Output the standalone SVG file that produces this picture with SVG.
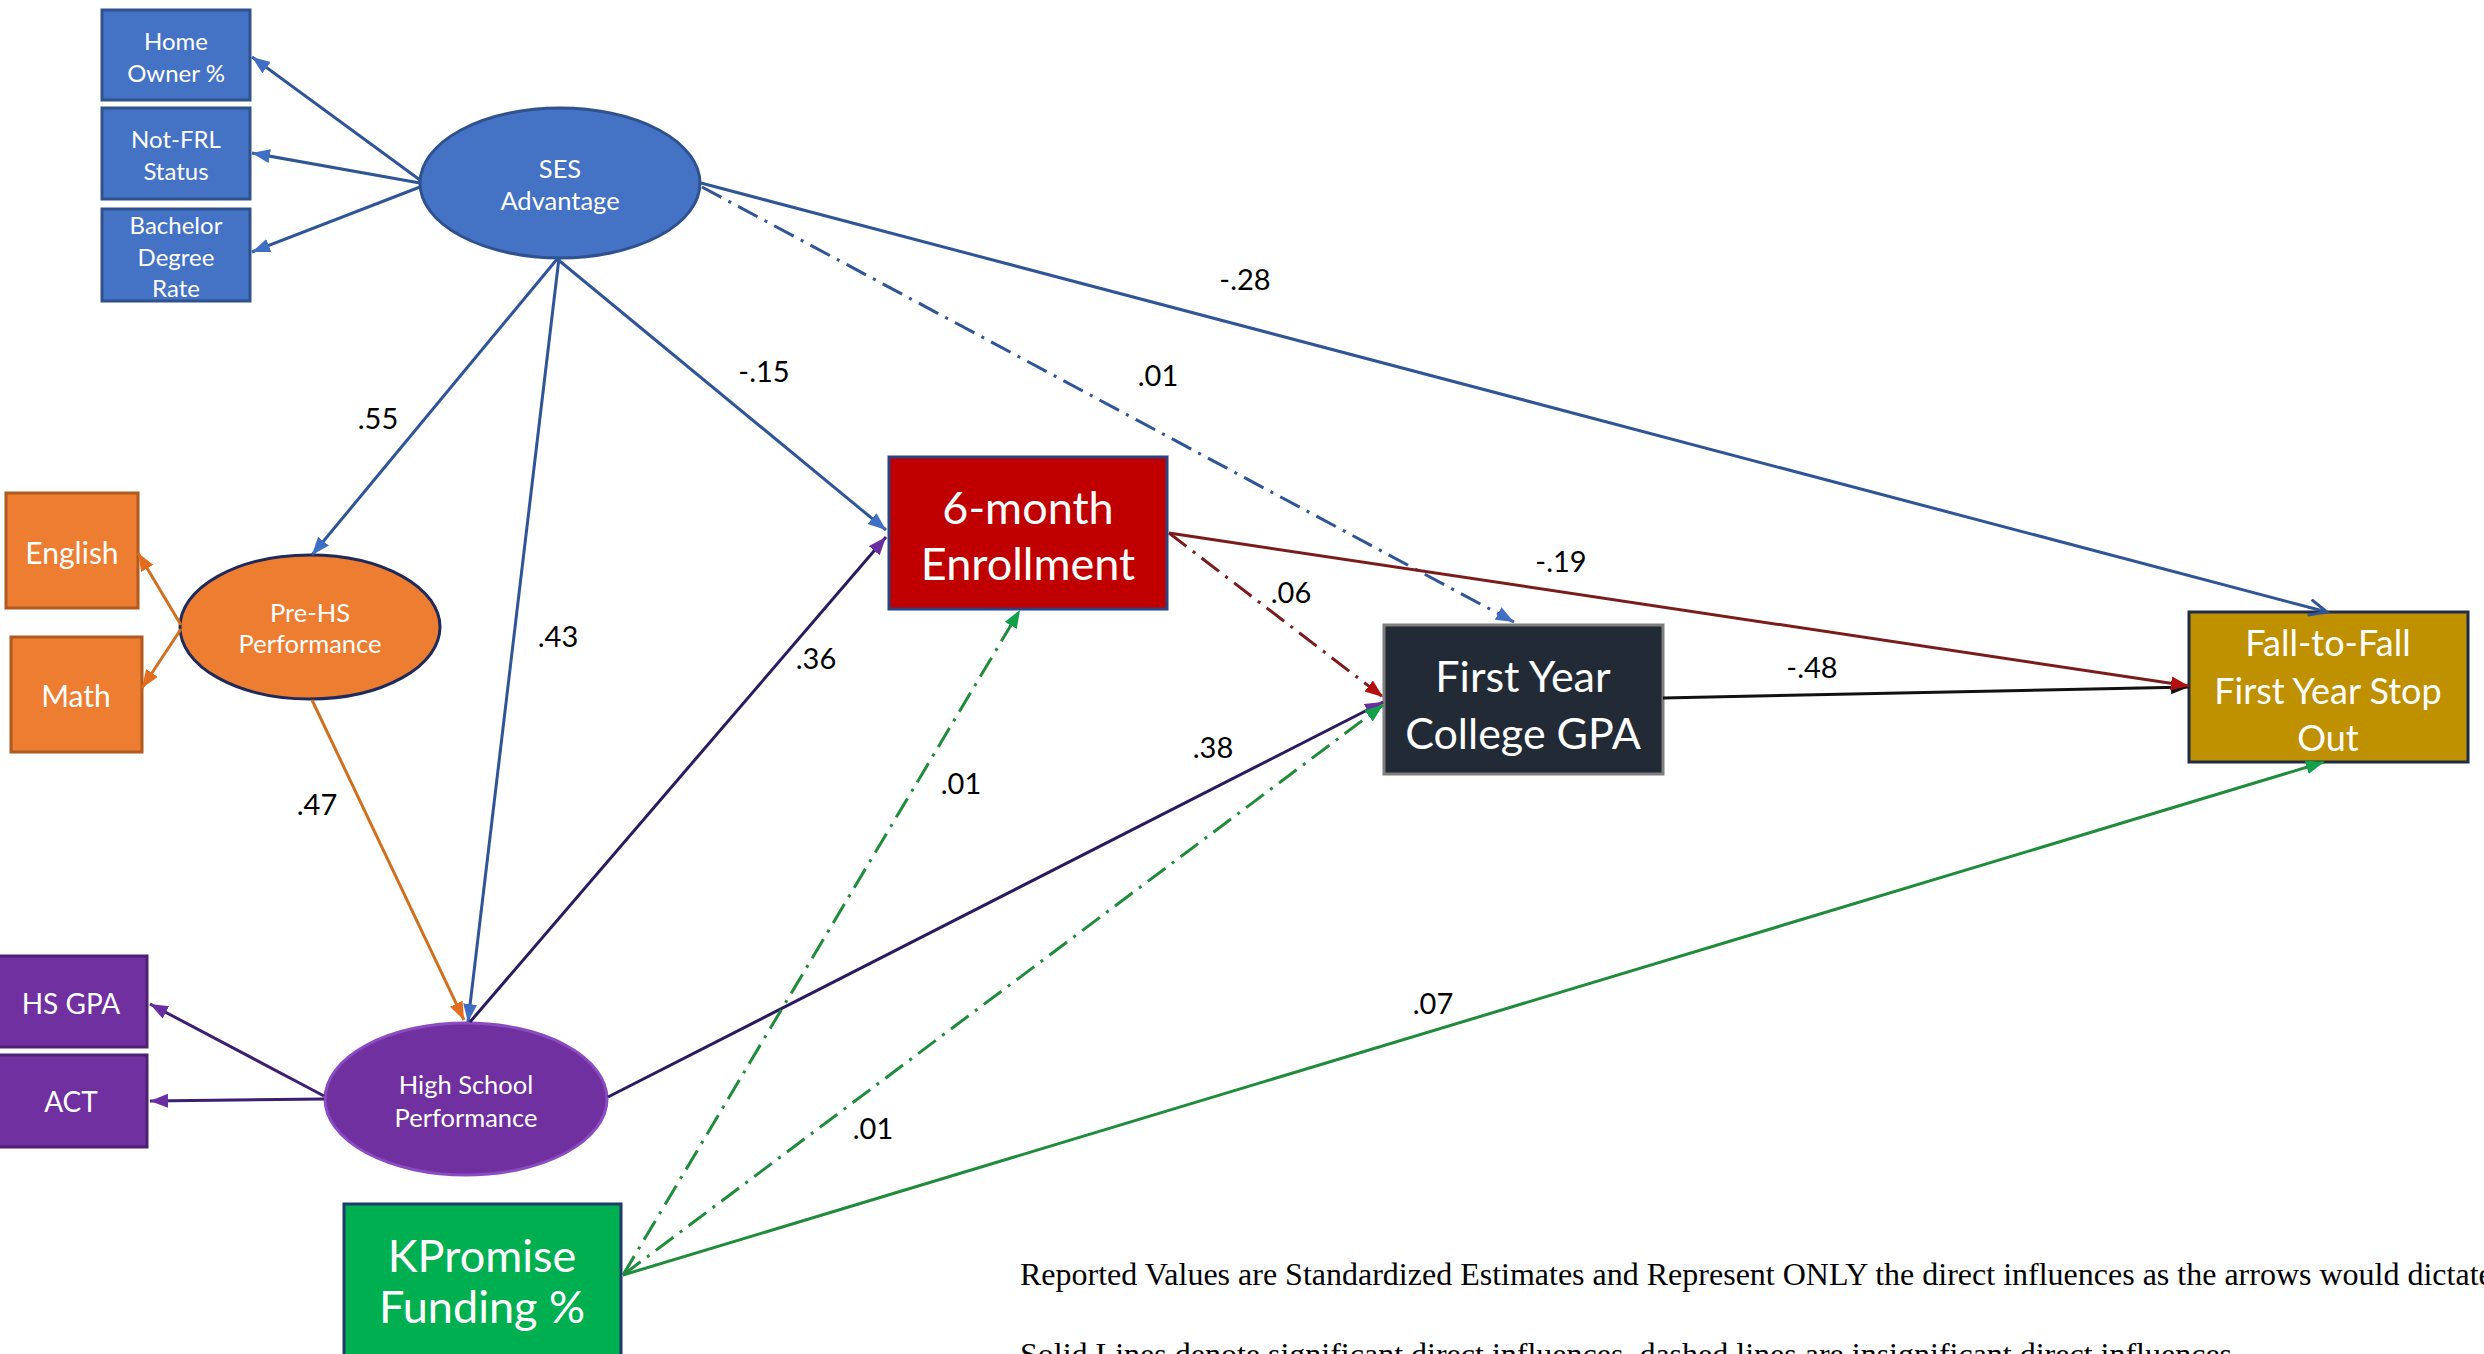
<svg xmlns="http://www.w3.org/2000/svg" width="2484" height="1354" viewBox="0 0 2484 1354">
<defs>
<style>
.nt{font-family:Lato,"Liberation Sans",sans-serif;fill:#ffffff;text-anchor:middle;dominant-baseline:central}
.s{font-size:24px}
.e{font-size:25.5px}
.m{font-size:30px}
.b{font-size:45px}
.g{font-size:43px}
.f{font-size:36px}
.lb{font-family:Lato,"Liberation Sans",sans-serif;font-size:29px;fill:#000;text-anchor:middle;dominant-baseline:central}
.ft{font-family:"Liberation Serif","Times New Roman",serif;font-size:32px;fill:#000}
.c{fill:none;stroke-width:3}
.dd{stroke-dasharray:22 8 3 8}
</style>
<marker id="mBlue" markerUnits="userSpaceOnUse" markerWidth="20" markerHeight="16" refX="18" refY="7" orient="auto"><path d="M0,0 L18,7 L0,14 z" fill="#3F6FC4"/></marker>
<marker id="mBlueOpen" markerUnits="userSpaceOnUse" markerWidth="22" markerHeight="20" refX="19" refY="9" orient="auto"><path d="M1,1 L19,9 L1,17" fill="none" stroke="#2F5597" stroke-width="3"/></marker>
<marker id="mOrange" markerUnits="userSpaceOnUse" markerWidth="20" markerHeight="16" refX="18" refY="7" orient="auto"><path d="M0,0 L18,7 L0,14 z" fill="#E46C1E"/></marker>
<marker id="mPurple" markerUnits="userSpaceOnUse" markerWidth="20" markerHeight="16" refX="18" refY="7" orient="auto"><path d="M0,0 L18,7 L0,14 z" fill="#6A2EA0"/></marker>
<marker id="mGreen" markerUnits="userSpaceOnUse" markerWidth="20" markerHeight="16" refX="18" refY="7" orient="auto"><path d="M0,0 L18,7 L0,14 z" fill="#12A04A"/></marker>
<marker id="mRed" markerUnits="userSpaceOnUse" markerWidth="20" markerHeight="16" refX="18" refY="7" orient="auto"><path d="M0,0 L18,7 L0,14 z" fill="#B40F0F"/></marker>
<marker id="mBlack" markerUnits="userSpaceOnUse" markerWidth="20" markerHeight="16" refX="18" refY="7" orient="auto"><path d="M0,0 L18,7 L0,14 z" fill="#111"/></marker>
</defs>
<rect width="2484" height="1354" fill="#ffffff"/>

<g id="home-owner"><rect x="102" y="10" width="148" height="90" fill="#4472C4" stroke="#2F528F" stroke-width="3"/><text class="nt s" x="176" y="40">Home</text><text class="nt s" x="176" y="72">Owner %</text></g>
<g id="not-frl"><rect x="102" y="108" width="148" height="91" fill="#4472C4" stroke="#2F528F" stroke-width="3"/><text class="nt s" x="176" y="138">Not-FRL</text><text class="nt s" x="176" y="170">Status</text></g>
<g id="bachelor"><rect x="102" y="209" width="148" height="92" fill="#4472C4" stroke="#2F528F" stroke-width="3"/><text class="nt s" x="176" y="224">Bachelor</text><text class="nt s" x="176" y="256">Degree</text><text class="nt s" x="176" y="287">Rate</text></g>
<g id="ses"><ellipse cx="560" cy="183" rx="140" ry="75" fill="#4472C4" stroke="#2F528F" stroke-width="3"/><text class="nt e" x="560" y="168">SES</text><text class="nt e" x="560" y="200">Advantage</text></g>

<g id="english"><rect x="6" y="493" width="132" height="115" fill="#ED7D31" stroke="#AE5A21" stroke-width="3"/><text class="nt m" x="72" y="552">English</text></g>
<g id="math"><rect x="11" y="637" width="131" height="115" fill="#ED7D31" stroke="#AE5A21" stroke-width="3"/><text class="nt m" x="76" y="695">Math</text></g>
<g id="pre-hs"><ellipse cx="310" cy="627" rx="130" ry="72" fill="#ED7D31" stroke="#1F2A5A" stroke-width="3"/><text class="nt e" x="310" y="612">Pre-HS</text><text class="nt e" x="310" y="643">Performance</text></g>

<g id="hs-gpa"><rect x="-3" y="956" width="150" height="91" fill="#7030A0" stroke="#4E2174" stroke-width="3"/><text class="nt m" x="71" y="1003" style="font-size:28px">HS GPA</text></g>
<g id="act"><rect x="-3" y="1055" width="150" height="92" fill="#7030A0" stroke="#4E2174" stroke-width="3"/><text class="nt m" x="71" y="1101" style="font-size:28px">ACT</text></g>
<g id="hs-perf"><ellipse cx="466" cy="1099" rx="141" ry="76" fill="#7030A0" stroke="#8A4CC0" stroke-width="3"/><text class="nt e" x="466" y="1084">High School</text><text class="nt e" x="466" y="1117">Performance</text></g>

<g id="kpromise"><rect x="344" y="1204" width="277" height="152" fill="#00B050" stroke="#1F3A6B" stroke-width="3"/><text class="nt b" x="482" y="1255">KPromise</text><text class="nt b" x="482" y="1306">Funding %</text></g>
<g id="enrollment"><rect x="889" y="457" width="278" height="152" fill="#C00000" stroke="#2F3F7F" stroke-width="3"/><text class="nt b" x="1028" y="507">6-month</text><text class="nt b" x="1028" y="563">Enrollment</text></g>
<g id="college-gpa"><rect x="1384" y="625" width="279" height="149" fill="#222A35" stroke="#7F7F7F" stroke-width="3"/><text class="nt g" x="1523" y="675">First Year</text><text class="nt g" x="1523" y="732">College GPA</text></g>
<g id="stop-out"><rect x="2189" y="612" width="279" height="150" fill="#BF9000" stroke="#1F2A44" stroke-width="3"/><text class="nt f" x="2328" y="642">Fall-to-Fall</text><text class="nt f" x="2328" y="690">First Year Stop</text><text class="nt f" x="2328" y="737">Out</text></g>

<g id="connectors">
<line class="c" x1="420" y1="180" x2="252" y2="57" stroke="#2F5597" marker-end="url(#mBlue)"/>
<line class="c" x1="420" y1="183" x2="252" y2="153" stroke="#2F5597" marker-end="url(#mBlue)"/>
<line class="c" x1="420" y1="187" x2="252" y2="252" stroke="#2F5597" marker-end="url(#mBlue)"/>
<line class="c" x1="558" y1="258" x2="312" y2="555" stroke="#2F5597" marker-end="url(#mBlue)"/>
<line class="c" x1="559" y1="258" x2="468" y2="1022" stroke="#2F5597" marker-end="url(#mBlue)"/>
<line class="c" x1="556" y1="258" x2="886" y2="530" stroke="#2F5597" marker-end="url(#mBlue)"/>
<line class="c dd" x1="702" y1="187" x2="1514" y2="622" stroke="#2F5597" marker-end="url(#mBlue)"/>
<line class="c" x1="701" y1="183" x2="2327" y2="612" stroke="#2F5597" marker-end="url(#mBlueOpen)"/>
<line class="c" x1="181" y1="625" x2="138" y2="553" stroke="#D0701F" marker-end="url(#mOrange)"/>
<line class="c" x1="181" y1="629" x2="142" y2="688" stroke="#D0701F" marker-end="url(#mOrange)"/>
<line class="c" x1="312" y1="700" x2="464" y2="1020" stroke="#D0701F" marker-end="url(#mOrange)"/>
<line class="c" x1="324" y1="1096" x2="150" y2="1004" stroke="#3D1F72" marker-end="url(#mPurple)"/>
<line class="c" x1="324" y1="1099" x2="150" y2="1101" stroke="#3D1F72" marker-end="url(#mPurple)"/>
<line class="c" x1="470" y1="1022" x2="886" y2="537" stroke="#2B1B5E" marker-end="url(#mPurple)"/>
<line class="c" x1="608" y1="1097" x2="1383" y2="702" stroke="#2B1B5E" marker-end="url(#mPurple)"/>
<line class="c dd" x1="1169" y1="533" x2="1383" y2="697" stroke="#7B1C1C" marker-end="url(#mRed)"/>
<line class="c" x1="1663" y1="698" x2="2189" y2="687" stroke="#111" marker-end="url(#mBlack)"/>
<line class="c" x1="1169" y1="533" x2="2189" y2="686" stroke="#7B1C1C" marker-end="url(#mRed)"/>
<line class="c dd" x1="623" y1="1275" x2="1020" y2="610" stroke="#1E8C3A" marker-end="url(#mGreen)"/>
<line class="c dd" x1="623" y1="1275" x2="1383" y2="705" stroke="#1E8C3A" marker-end="url(#mGreen)"/>
<line class="c" x1="623" y1="1275" x2="2324" y2="762" stroke="#1E8C3A" marker-end="url(#mGreen)"/>
</g>

<g id="labels">
<text class="lb" x="1245" y="278">-.28</text>
<text class="lb" x="1158" y="374">.01</text>
<text class="lb" x="378" y="417">.55</text>
<text class="lb" x="764" y="370">-.15</text>
<text class="lb" x="558" y="635">.43</text>
<text class="lb" x="816" y="657">.36</text>
<text class="lb" x="1561" y="560">-.19</text>
<text class="lb" x="1291" y="591">.06</text>
<text class="lb" x="1812" y="666">-.48</text>
<text class="lb" x="1213" y="746">.38</text>
<text class="lb" x="317" y="803">.47</text>
<text class="lb" x="961" y="782">.01</text>
<text class="lb" x="873" y="1127">.01</text>
<text class="lb" x="1433" y="1002">.07</text>
</g>

<g id="notes">
<text class="ft" x="1020" y="1285">Reported Values are Standardized Estimates and Represent ONLY the direct influences as the arrows would dictate</text>
<text class="ft" x="1020" y="1365">Solid Lines denote significant direct influences, dashed lines are insignificant direct influences</text>
</g>
</svg>
